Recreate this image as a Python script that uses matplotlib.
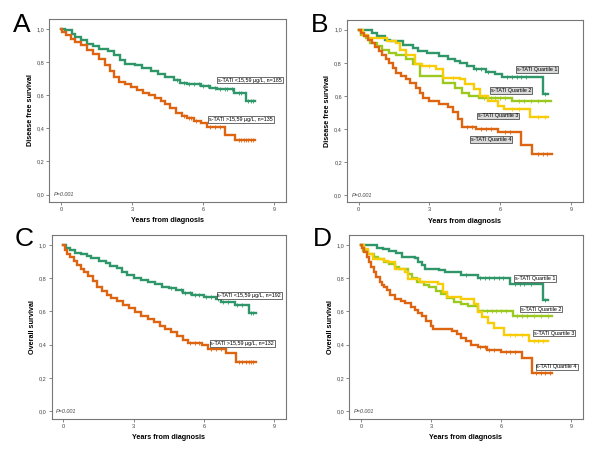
import numpy as np
import matplotlib
matplotlib.use("Agg")
import matplotlib.pyplot as plt

plt.rcParams["font.family"] = ["Liberation Sans", "DejaVu Sans"]

GREEN = "#2f9669"
ORANGE = "#dd6410"
LIME = "#9bc920"
YELLOW = "#f9cc08"

# Panel A - disease free survival, two groups
a_low_t = [0, 0.15, 0.45, 0.6, 0.85, 1.1, 1.35, 1.6, 2.0, 2.25, 2.5, 2.7, 3.1, 3.4, 3.8, 4.1, 4.4, 4.75, 5.0, 5.3, 5.9, 6.3, 6.6, 7.3, 7.8]
a_low_s = [1.0, 0.99, 0.97, 0.95, 0.93, 0.91, 0.895, 0.88, 0.865, 0.84, 0.81, 0.79, 0.78, 0.765, 0.745, 0.73, 0.71, 0.69, 0.675, 0.665, 0.655, 0.645, 0.635, 0.615, 0.565]
a_low_end = 8.2
a_low_cens = [4.9, 5.2, 5.4, 5.6, 5.8, 6.0, 6.2, 6.5, 6.7, 6.9, 7.0, 7.2, 7.5, 7.6, 7.9, 8.0, 8.1]
a_high_t = [0, 0.05, 0.2, 0.4, 0.6, 0.85, 1.1, 1.35, 1.6, 1.85, 2.05, 2.25, 2.45, 2.7, 2.95, 3.2, 3.45, 3.7, 3.95, 4.2, 4.4, 4.6, 4.85, 5.1, 5.3, 5.6, 5.9, 6.15, 6.9, 7.35]
a_high_s = [1.0, 0.98, 0.96, 0.94, 0.92, 0.90, 0.875, 0.85, 0.815, 0.78, 0.745, 0.71, 0.68, 0.665, 0.65, 0.63, 0.615, 0.60, 0.585, 0.565, 0.545, 0.52, 0.495, 0.475, 0.46, 0.445, 0.43, 0.41, 0.36, 0.33]
a_high_end = 8.2
a_high_cens = [5.2, 5.4, 5.5, 5.7, 6.3, 6.5, 6.7, 7.5, 7.6, 7.7, 7.8, 7.9, 8.0, 8.1]

# Panel B - disease free survival by quartile
b_q1_t = [0, 0.55, 0.8, 1.1, 1.35, 1.9, 2.3, 2.5, 2.9, 3.4, 3.8, 4.1, 4.3, 4.6, 4.9, 5.4, 5.8, 6.1, 7.8]
b_q1_s = [1.0, 0.98, 0.96, 0.94, 0.93, 0.91, 0.89, 0.87, 0.86, 0.84, 0.82, 0.81, 0.80, 0.78, 0.76, 0.745, 0.73, 0.715, 0.61]
b_q1_end = 8.05
b_q1_cens = [5.0, 5.2, 5.5, 6.3, 6.5, 6.7, 6.9, 7.1, 7.9]
b_q2_t = [0, 0.1, 0.3, 0.5, 0.8, 1.0, 1.3, 1.6, 2.0, 2.3, 2.6, 3.6, 4.1, 4.4, 4.7, 5.1, 6.5]
b_q2_s = [1.0, 0.97, 0.95, 0.92, 0.90, 0.88, 0.86, 0.85, 0.82, 0.79, 0.72, 0.68, 0.65, 0.62, 0.60, 0.59, 0.57]
b_q2_end = 8.15
b_q2_cens = [5.3, 5.6, 5.8, 6.0, 6.2, 6.8, 7.0, 7.3, 7.6, 7.9]
b_q3_t = [0, 0.2, 0.4, 1.2, 1.6, 1.75, 2.0, 2.4, 2.7, 3.3, 3.6, 4.3, 4.5, 4.9, 5.15, 5.5, 5.9, 6.15, 7.25]
b_q3_s = [1.0, 0.97, 0.95, 0.93, 0.92, 0.88, 0.85, 0.79, 0.78, 0.76, 0.71, 0.70, 0.67, 0.64, 0.60, 0.57, 0.54, 0.52, 0.47]
b_q3_end = 8.05
b_q3_cens = [3.0, 4.0, 5.3, 6.5, 6.8, 7.6, 7.9]
b_q4_t = [0, 0.1, 0.25, 0.4, 0.55, 0.7, 0.85, 1.0, 1.15, 1.3, 1.45, 1.6, 1.8, 2.0, 2.2, 2.45, 2.6, 2.75, 3.0, 3.4, 3.8, 4.0, 4.2, 4.4, 5.0, 5.9, 6.9, 7.35]
b_q4_s = [1.0, 0.98, 0.96, 0.94, 0.92, 0.895, 0.87, 0.85, 0.82, 0.80, 0.77, 0.74, 0.72, 0.70, 0.68, 0.65, 0.62, 0.59, 0.57, 0.55, 0.53, 0.50, 0.46, 0.41, 0.40, 0.38, 0.30, 0.25]
b_q4_end = 8.2
b_q4_cens = [4.6, 4.8, 5.2, 5.4, 5.6, 6.2, 6.4, 7.6, 7.8, 8.0]

# Panel C - overall survival, two groups
c_low_t = [0, 0.1, 0.3, 0.5, 0.75, 1.0, 1.2, 1.5, 1.8, 2.0, 2.3, 2.5, 2.7, 3.0, 3.3, 3.6, 3.9, 4.2, 4.5, 4.8, 5.1, 5.5, 6.0, 6.5, 6.7, 7.3, 7.9]
c_low_s = [1.0, 0.985, 0.97, 0.955, 0.945, 0.935, 0.92, 0.905, 0.89, 0.875, 0.86, 0.84, 0.82, 0.80, 0.79, 0.775, 0.765, 0.75, 0.74, 0.73, 0.71, 0.70, 0.69, 0.675, 0.655, 0.64, 0.59]
c_low_end = 8.2
c_low_cens = [4.6, 5.0, 5.2, 5.4, 5.6, 5.8, 6.1, 6.3, 6.6, 6.8, 7.0, 7.4, 7.6, 8.0, 8.1]
c_high_t = [0, 0.05, 0.15, 0.3, 0.45, 0.6, 0.75, 0.9, 1.05, 1.25, 1.45, 1.65, 1.85, 2.05, 2.3, 2.55, 2.8, 3.05, 3.3, 3.6, 3.85, 4.1, 4.35, 4.6, 4.85, 5.1, 5.3, 5.9, 6.15, 6.95, 7.35]
c_high_s = [1.0, 0.97, 0.945, 0.925, 0.905, 0.88, 0.855, 0.835, 0.815, 0.785, 0.75, 0.725, 0.70, 0.68, 0.665, 0.64, 0.62, 0.595, 0.575, 0.555, 0.535, 0.515, 0.495, 0.475, 0.455, 0.43, 0.41, 0.40, 0.375, 0.35, 0.295]
c_high_end = 8.2
c_high_cens = [5.4, 5.6, 5.8, 6.3, 6.5, 6.7, 7.5, 7.6, 7.8, 7.9, 8.0, 8.1]

# Panel D - overall survival by quartile
d_q1_t = [0, 0.7, 0.95, 1.2, 1.5, 1.75, 2.3, 2.45, 2.6, 2.75, 3.35, 3.6, 4.3, 5.0, 6.4, 7.8]
d_q1_s = [1.0, 0.985, 0.975, 0.965, 0.95, 0.93, 0.92, 0.90, 0.88, 0.855, 0.85, 0.84, 0.82, 0.80, 0.765, 0.67]
d_q1_end = 8.0
d_q1_cens = [4.5, 5.1, 5.3, 5.5, 5.7, 5.9, 6.1, 6.6, 6.8, 7.0, 7.3, 7.9]
d_q2_t = [0, 0.1, 0.3, 0.55, 0.75, 1.0, 1.2, 1.45, 1.65, 2.0, 2.2, 2.4, 2.7, 2.9, 3.2, 3.45, 3.7, 4.0, 4.3, 4.6, 5.0, 6.5]
d_q2_s = [1.0, 0.965, 0.945, 0.93, 0.915, 0.90, 0.885, 0.87, 0.855, 0.825, 0.80, 0.78, 0.76, 0.745, 0.725, 0.705, 0.68, 0.655, 0.645, 0.635, 0.60, 0.575]
d_q2_end = 8.2
d_q2_cens = [5.2, 5.4, 5.6, 5.8, 6.0, 6.2, 6.7, 6.9, 7.1, 7.4, 7.7, 8.0]
d_q3_t = [0, 0.15, 0.3, 0.5, 1.0, 1.15, 1.45, 1.9, 2.0, 2.55, 3.3, 3.5, 3.7, 4.3, 4.85, 5.0, 5.2, 5.45, 5.7, 6.15, 7.2]
d_q3_s = [1.0, 0.975, 0.945, 0.915, 0.905, 0.895, 0.855, 0.84, 0.795, 0.775, 0.765, 0.72, 0.685, 0.675, 0.645, 0.595, 0.565, 0.53, 0.50, 0.46, 0.42]
d_q3_end = 8.0
d_q3_cens = [6.4, 6.6, 6.9, 7.4, 7.6, 7.8]
d_q4_t = [0, 0.05, 0.15, 0.25, 0.35, 0.45, 0.55, 0.65, 0.8, 0.9, 1.0, 1.1, 1.25, 1.45, 1.7, 1.9, 2.15, 2.3, 2.45, 2.6, 2.8, 3.0, 3.1, 3.9, 4.1, 4.3, 4.5, 4.7, 5.0, 5.4, 6.0, 6.9, 7.35]
d_q4_s = [1.0, 0.98, 0.96, 0.93, 0.90, 0.87, 0.84, 0.81, 0.78, 0.76, 0.745, 0.73, 0.70, 0.675, 0.665, 0.65, 0.63, 0.61, 0.59, 0.57, 0.54, 0.51, 0.495, 0.48, 0.465, 0.44, 0.42, 0.40, 0.385, 0.37, 0.355, 0.32, 0.23]
d_q4_end = 8.2
d_q4_cens = [5.1, 5.3, 5.5, 5.7, 6.2, 6.4, 6.6, 7.5, 7.7, 7.9, 8.1]

labels_two_a = ["s-TATI <15,59 µg/L, n=185", "s-TATI >15,59 µg/L, n=135"]
labels_two_c = ["s-TATI <15,59 µg/L, n=192", "s-TATI >15,59 µg/L, n=132"]
labels_quart = ["s-TATI Quartile 1", "s-TATI Quartile 2", "s-TATI Quartile 3", "s-TATI Quartile 4"]
yticks = [0.0, 0.2, 0.4, 0.6, 0.8, 1.0]
ytick_labels = ["0,0", "0,2", "0,4", "0,6", "0,8", "1,0"]
xticks = [0, 3, 6, 9]


def km(ax, t, s, end, cens, color):
    tt = list(t) + [end]
    ss = list(s) + [s[-1]]
    ax.step(tt, ss, where="post", color=color, lw=1.7, solid_joinstyle="miter")
    idx = np.searchsorted(np.array(t), np.array(cens), side="right") - 1
    ax.plot(cens, np.array(s)[idx], ls="none", marker="|", ms=2.5, mew=0.6, color=color)


def setup(ax, letter, ylabel, letter_y):
    ax.set_xlim(-0.5, 9.5)
    ax.set_ylim(-0.045, 1.06)
    ax.set_yticks(yticks)
    ax.set_yticklabels(ytick_labels)
    ax.set_xticks(xticks)
    ax.tick_params(labelsize=4, length=2, width=0.5, color="#555555", pad=1.5, labelcolor="#444444")
    for sp in ax.spines.values():
        sp.set_color("#777777")
        sp.set_linewidth(0.8)
    ax.set_xlabel("Years from diagnosis", fontsize=5.2, fontweight="bold", labelpad=4)
    ax.set_ylabel(ylabel, fontsize=5.2, fontweight="bold", labelpad=2)
    ax.text(-0.3, -0.015, "P=0.001", fontsize=4, style="italic", color="#444444", va="bottom")
    pos = ax.get_position()
    fig.text(pos.x0 - 0.045, letter_y, letter, fontsize=19, va="center", ha="center")


def tag(ax, x, y, text, grey=False):
    fc = "#d9d9d9" if grey else "white"
    ax.text(x, y, text, fontsize=3.9, va="center", ha="left",
            bbox=dict(boxstyle="square,pad=0.15", fc=fc, ec="#333333", lw=0.5))


fig = plt.figure(figsize=(6, 4.72), dpi=100)
axA = fig.add_axes([0.082, 0.572, 0.395, 0.388])
axB = fig.add_axes([0.578, 0.571, 0.393, 0.387])
axC = fig.add_axes([0.086, 0.113, 0.391, 0.389])
axD = fig.add_axes([0.582, 0.113, 0.389, 0.389])

setup(axA, "A", "Disease free survival", 0.948)
km(axA, a_low_t, a_low_s, a_low_end, a_low_cens, GREEN)
km(axA, a_high_t, a_high_s, a_high_end, a_high_cens, ORANGE)
tag(axA, 6.62, 0.691, labels_two_a[0])
tag(axA, 6.24, 0.453, labels_two_a[1])

setup(axB, "B", "Disease free survival", 0.948)
km(axB, b_q1_t, b_q1_s, b_q1_end, b_q1_cens, GREEN)
km(axB, b_q2_t, b_q2_s, b_q2_end, b_q2_cens, LIME)
km(axB, b_q3_t, b_q3_s, b_q3_end, b_q3_cens, YELLOW)
km(axB, b_q4_t, b_q4_s, b_q4_end, b_q4_cens, ORANGE)
tag(axB, 6.70, 0.759, labels_quart[0], grey=True)
tag(axB, 5.60, 0.633, labels_quart[1], grey=True)
tag(axB, 5.07, 0.479, labels_quart[2], grey=True)
tag(axB, 4.75, 0.335, labels_quart[3], grey=True)

setup(axC, "C", "Overall survival", 0.494)
km(axC, c_low_t, c_low_s, c_low_end, c_low_cens, GREEN)
km(axC, c_high_t, c_high_s, c_high_end, c_high_cens, ORANGE)
tag(axC, 6.57, 0.696, labels_two_c[0])
tag(axC, 6.27, 0.408, labels_two_c[1])

setup(axD, "D", "Overall survival", 0.494)
km(axD, d_q1_t, d_q1_s, d_q1_end, d_q1_cens, GREEN)
km(axD, d_q2_t, d_q2_s, d_q2_end, d_q2_cens, LIME)
km(axD, d_q3_t, d_q3_s, d_q3_end, d_q3_cens, YELLOW)
km(axD, d_q4_t, d_q4_s, d_q4_end, d_q4_cens, ORANGE)
tag(axD, 6.59, 0.80, labels_quart[0])
tag(axD, 6.87, 0.614, labels_quart[1])
tag(axD, 7.41, 0.47, labels_quart[2])
tag(axD, 7.52, 0.267, labels_quart[3])

fig.savefig("out.png", dpi=100)
plt.close(fig)
